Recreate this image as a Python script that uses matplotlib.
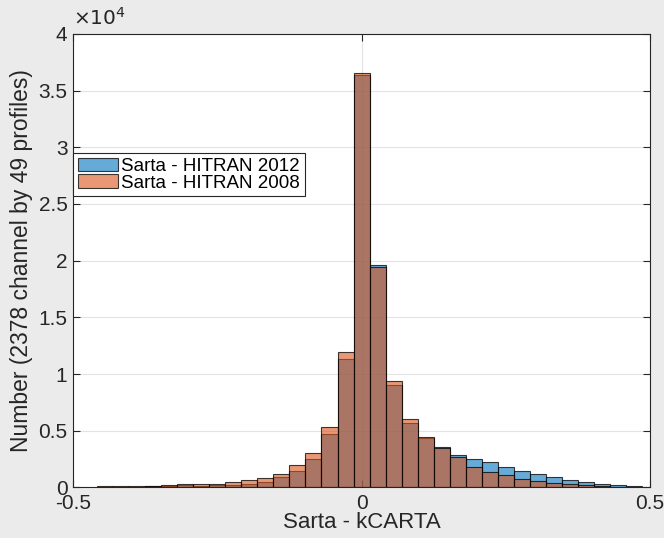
import numpy as np
import matplotlib.pyplot as plt
from matplotlib.ticker import FuncFormatter

plt.rcParams['font.family'] = ['Liberation Sans', 'DejaVu Sans']

# histogram bins (Sarta - kCARTA)
bin_width = 1 / 36
first_edge = -0.5 + 1 / 72 + 1 / 36

# counts per bin
hitran_2012 = [60, 60, 80, 90, 140, 190, 170, 180, 190, 310, 510, 900,
               1430, 2490, 4720, 11330, 36360, 19640, 9040, 5660, 4400,
               3540, 2890, 2510, 2220, 1780, 1450, 1190, 900, 640, 460,
               280, 190, 100]
hitran_2008 = [90, 90, 120, 130, 200, 290, 270, 340, 460, 630, 810, 1160,
               1960, 3040, 5310, 11920, 36540, 19450, 9360, 6010, 4450,
               3520, 2660, 1780, 1340, 1075, 750, 570, 420, 280, 190,
               100, 60, 50]
labels = ['Sarta - HITRAN 2012', 'Sarta - HITRAN 2008']

left_edges = first_edge + bin_width * np.arange(len(hitran_2012))

fig = plt.figure(figsize=(6.64, 5.38), dpi=100, facecolor='#ebebeb')
ax = fig.add_axes([0.110, 0.094, 0.869, 0.843])
ax.set_facecolor('white')

ax.bar(left_edges, hitran_2012, width=bin_width, align='edge',
       color=(0, 0.447, 0.741, 0.6), edgecolor=(0, 0, 0, 0.75), linewidth=0.8,
       label=labels[0])
ax.bar(left_edges, hitran_2008, width=bin_width, align='edge',
       color=(0.85, 0.325, 0.098, 0.6), edgecolor=(0, 0, 0, 0.75), linewidth=0.8,
       label=labels[1])

ax.set_xlim(-0.5, 0.5)
ax.set_ylim(0, 40000)
ax.set_xticks([-0.5, 0, 0.5])
ax.set_yticks(np.arange(0, 40001, 5000))
ax.xaxis.set_major_formatter(FuncFormatter(lambda v, p: f'{v:g}'))
ax.yaxis.set_major_formatter(FuncFormatter(lambda v, p: f'{v / 1e4:g}'))

dark = '#262626'
ax.set_axisbelow(True)
ax.grid(True, color='#e3e3e3', linewidth=0.8)
ax.tick_params(direction='in', length=5, width=0.8, colors=dark,
               labelsize=15, top=True, right=True)
ax.tick_params(axis='x', pad=5)
ax.tick_params(axis='y', pad=4)
for s in ax.spines.values():
    s.set_color(dark)
    s.set_linewidth(0.8)

ax.set_xlabel('Sarta - kCARTA', fontsize=16, color=dark, labelpad=-1)
ax.set_ylabel('Number (2378 channel by 49 profiles)', fontsize=16.5,
              color=dark, labelpad=4)
ax.text(0.0, 1.012, r'$\times 10^4$', transform=ax.transAxes, fontsize=14.5,
        color=dark, ha='left', va='bottom')

leg = ax.legend(loc='upper left', bbox_to_anchor=(0.0, 0.737),
                borderaxespad=0, fontsize=13.5, fancybox=False,
                framealpha=1, edgecolor=dark, handlelength=2.13,
                handleheight=0.73, handletextpad=0.2, labelspacing=-0.05,
                borderpad=0.25)
leg.get_frame().set_linewidth(0.8)

fig.savefig('out.png', dpi=100, facecolor=fig.get_facecolor())
